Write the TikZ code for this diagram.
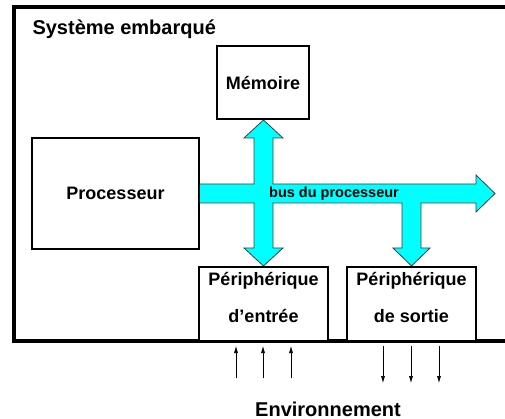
\documentclass[tikz,border=0pt]{standalone}
\usepackage{fontspec}
\setmainfont{Liberation Sans}
\usetikzlibrary{arrows.meta}
\definecolor{buscyan}{RGB}{0,255,255}
\newcommand{\boxfont}{\fontsize{18}{37}\selectfont\bfseries}

\begin{document}
\begin{tikzpicture}[x=1pt,y=-1pt,
	unit/.style={draw, line width=1.3pt, fill=white, inner sep=0pt, align=center, font=\boxfont},
	io/.style={-{Latex[length=7pt,width=4pt]}, line width=0.6pt}]
	\useasboundingbox (0,0) rectangle (505,419);

	% frame of the system
	\draw[line width=4pt] (505,7) -- (14,7) -- (14,341) -- (505,341);
	\node[anchor=base west, font=\fontsize{20}{24}\selectfont\bfseries] (title) at (29,35) {Système embarqué};

	% bus
	\draw[fill=buscyan, draw=black!75, line width=0.8pt]
		(198,184) -- (254,184) -- (254,138) -- (244,138) -- (263.5,120) -- (283,138) -- (273,138)
		-- (273,184) -- (476,184) -- (476,175) -- (495,193.5) -- (476,212) -- (476,203)
		-- (421,203) -- (421,248) -- (430,248) -- (411.5,266) -- (393,248) -- (402,248)
		-- (402,203) -- (273,203) -- (273,248) -- (283,248) -- (263.5,266) -- (244,248)
		-- (254,248) -- (254,203) -- (198,203) -- cycle;
	\node[anchor=base, font=\fontsize{14.5}{17}\selectfont\bfseries] (bus) at (334,198) {bus du processeur};

	% units
	\node[unit, minimum width=92pt, minimum height=73pt] (mem) at (263,82.5) {Mémoire};
	\node[unit, minimum width=167pt, minimum height=111pt] (proc) at (115.5,193.5) {Processeur};
	\node[unit, minimum width=129pt, minimum height=74pt, text height=37pt, text depth=0pt] (pin) at (263.5,304) {Périphérique\\d’entrée};
	\node[unit, minimum width=129pt, minimum height=74pt, text height=37pt, text depth=0pt] (pout) at (411.5,304) {Périphérique\\de sortie};

	% environment
	\foreach \x [count=\i] in {236,263,291}{
		\coordinate (inlo\i) at (\x,378);
		\coordinate (inhi\i) at (\x,346);
		\draw[io] (inlo\i) -- (inhi\i);
	}
	\foreach \x [count=\i] in {383,411,439}{
		\coordinate (outhi\i) at (\x,346);
		\coordinate (outlo\i) at (\x,383);
		\draw[io] (outhi\i) -- (outlo\i);
	}
	\node[anchor=base, font=\fontsize{20}{24}\selectfont\bfseries] (env) at (328,416) {Environnement};

\end{tikzpicture}
\end{document}
